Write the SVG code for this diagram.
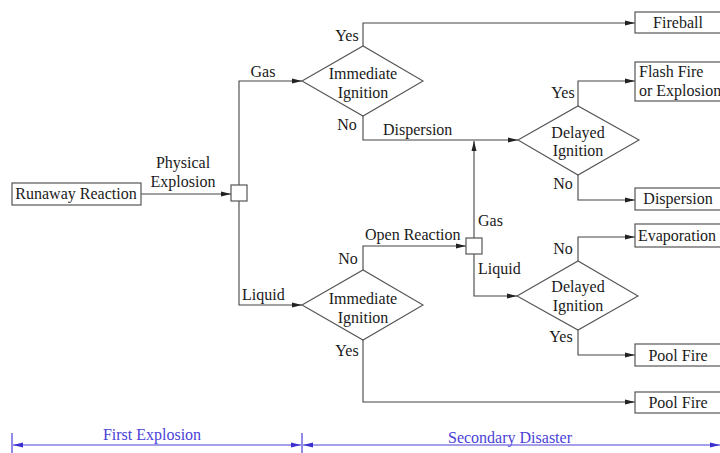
<svg xmlns="http://www.w3.org/2000/svg" width="720" height="453" viewBox="0 0 720 453" font-family="'Liberation Serif', 'DejaVu Serif', serif">
<defs>
<marker id="ah" viewBox="0 0 10 6" refX="10" refY="3" markerWidth="10" markerHeight="6" markerUnits="userSpaceOnUse" orient="auto"><path d="M0,0.5 L10,3 L0,5.5 Z" fill="#222"/></marker>
<marker id="bh" viewBox="0 0 10 6" refX="10" refY="3" markerWidth="10" markerHeight="6" markerUnits="userSpaceOnUse" orient="auto-start-reverse"><path d="M0,0.5 L10,3 L0,5.5 Z" fill="#3b2fd0"/></marker>
<style>
text{font-family:'Liberation Serif','DejaVu Serif',serif;font-size:16px;fill:#1a1a1a}
.c{text-anchor:middle}
.box{fill:#fff;stroke:#555;stroke-width:1.2}
.dia{fill:#fff;stroke:#555;stroke-width:1.1}
.ln{fill:none;stroke:#444;stroke-width:1.1}
.bl{fill:none;stroke:#4a3fd8;stroke-width:1.2}
.bt{fill:#4a3fd8}
</style>
</defs>
<g id="connectors">
<path class="ln" d="M141,194 H231" marker-end="url(#ah)"/>
<path class="ln" d="M239,185 V81 H302" marker-end="url(#ah)"/>
<path class="ln" d="M239,201 V305 H302" marker-end="url(#ah)"/>
<path class="ln" d="M363,46 V23 H635" marker-end="url(#ah)"/>
<path class="ln" d="M363,116 V140 H518" marker-end="url(#ah)"/>
<path class="ln" d="M474,238 V141" marker-end="url(#ah)"/>
<path class="ln" d="M578,106 V81 H635" marker-end="url(#ah)"/>
<path class="ln" d="M578,175 V200 H635" marker-end="url(#ah)"/>
<path class="ln" d="M363,270 V246 H466" marker-end="url(#ah)"/>
<path class="ln" d="M474,254 V296 H517" marker-end="url(#ah)"/>
<path class="ln" d="M578,261 V237 H635" marker-end="url(#ah)"/>
<path class="ln" d="M578,330 V355 H635" marker-end="url(#ah)"/>
<path class="ln" d="M363,340 V402 H635" marker-end="url(#ah)"/>
<text x="183" y="168" class="c">Physical</text>
<text x="183" y="187" class="c">Explosion</text>
<text x="263" y="77" class="c">Gas</text>
<text x="242" y="300">Liquid</text>
<text x="347" y="41" class="c">Yes</text>
<text x="347" y="130" class="c">No</text>
<text x="383" y="135">Dispersion</text>
<text x="563" y="98" class="c">Yes</text>
<text x="563" y="189" class="c">No</text>
<text x="478" y="226">Gas</text>
<text x="365" y="240">Open Reaction</text>
<text x="348" y="264" class="c">No</text>
<text x="478" y="274">Liquid</text>
<text x="563" y="254" class="c">No</text>
<text x="561" y="342" class="c">Yes</text>
<text x="347" y="356" class="c">Yes</text>
</g>
<g id="runaway"><rect class="box" x="12" y="183" width="129" height="22"/><text x="76" y="199" class="c">Runaway Reaction</text></g>
<g id="junction1"><rect class="box" x="231" y="185" width="16" height="16"/></g>
<g id="junction2"><rect class="box" x="466" y="238" width="16" height="16"/></g>
<g id="imm1"><path class="dia" d="M302,81 L363,46 L423,81 L363,116 Z"/><text x="363" y="79" class="c">Immediate</text><text x="363" y="98" class="c">Ignition</text></g>
<g id="imm2"><path class="dia" d="M302,305 L363,270 L423,305 L363,340 Z"/><text x="363" y="304" class="c">Immediate</text><text x="363" y="323" class="c">Ignition</text></g>
<g id="del1"><path class="dia" d="M518,140 L578,106 L639,140 L578,175 Z"/><text x="578" y="138" class="c">Delayed</text><text x="578" y="156" class="c">Ignition</text></g>
<g id="del2"><path class="dia" d="M517,296 L578,261 L638,296 L578,330 Z"/><text x="578" y="292" class="c">Delayed</text><text x="578" y="311" class="c">Ignition</text></g>
<g id="fireball"><rect class="box" x="635" y="12" width="90" height="21"/><text x="678" y="28" class="c">Fireball</text></g>
<g id="flash"><rect class="box" x="635" y="62" width="90" height="39"/><text x="639" y="77">Flash Fire</text><text x="639" y="96">or Explosion</text></g>
<g id="dispersion"><rect class="box" x="635" y="188" width="90" height="22"/><text x="678" y="204" class="c">Dispersion</text></g>
<g id="evaporation"><rect class="box" x="635" y="224" width="90" height="23"/><text x="677" y="241" class="c">Evaporation</text></g>
<g id="pool1"><rect class="box" x="635" y="344" width="90" height="22"/><text x="678" y="361" class="c">Pool Fire</text></g>
<g id="pool2"><rect class="box" x="635" y="392" width="90" height="21"/><text x="678" y="408" class="c">Pool Fire</text></g>
<g id="phases">
<path class="bl" d="M12,433 V453 M302,433 V453"/>
<path class="bl" d="M13,445 H301" marker-start="url(#bh)" marker-end="url(#bh)"/>
<path class="bl" d="M303,445 H720" marker-start="url(#bh)" marker-end="url(#bh)"/>
<text x="152" y="440" class="c bt">First Explosion</text>
<text x="510" y="443" class="c bt">Secondary Disaster</text>
</g>
</svg>
